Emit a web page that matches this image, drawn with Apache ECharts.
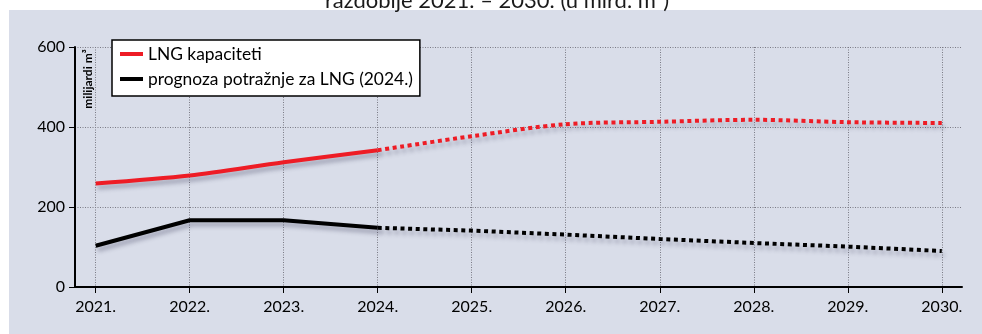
<!DOCTYPE html>
<html><head><meta charset="utf-8">
<script src="https://cdn.jsdelivr.net/npm/echarts@6/dist/echarts.min.js"></script>
<style>html,body{margin:0;padding:0;background:#fff}#c{width:982px;height:334px}</style>
</head><body><div id="c"></div>
<script>
const years = [2021, 2022, 2023, 2024, 2025, 2026, 2027, 2028, 2029, 2030];
const yTicks = [0, 200, 400, 600];
const lngCapacity = [259, 279, 312, 342, 377, 407, 413, 418, 412, 410];
const lngDemand = [103, 167, 167, 148, 141, 131, 120, 110, 101, 90];
const lastActualIndex = 3; // 2024.
const seriesNames = ['LNG kapaciteti', 'prognoza potražnje za LNG (2024.)'];
const titleText = 'razdoblje 2021. – 2030. (u mlrd. m³)';
const yAxisName = 'milijardi m³';

const pairs = (vals, from, to) => years.slice(from, to).map((y, i) => [y, vals[from + i]]);
const FONT = 'Lato';
const shadow = { shadowColor: 'rgba(50,50,80,0.35)', shadowBlur: 4, shadowOffsetX: 2, shadowOffsetY: 4 };

function mk(name, vals, color, dotted, smooth) {
  const from = dotted ? lastActualIndex : 0;
  const to = dotted ? years.length : lastActualIndex + 1;
  return {
    type: 'line', name, data: pairs(vals, from, to), showSymbol: false, symbol: 'none',
    smooth, color,
    lineStyle: Object.assign({ color, width: 4, type: dotted ? [4, 3.6] : 'solid', cap: 'butt' }, shadow),
    z: 3
  };
}

const chart = echarts.init(document.getElementById('c'), null, { renderer: 'canvas' });
chart.setOption({
  animation: false,
  backgroundColor: '#ffffff',
  graphic: [
    { type: 'rect', left: 9, top: 10, shape: { width: 973, height: 324 }, style: { fill: '#d9dde9' }, z: -10, silent: true },
    { type: 'text', x: 497, y: 12, style: { text: titleText, fontFamily: FONT, fontSize: 22, fill: '#1a1a1a', align: 'center', verticalAlign: 'bottom' }, z: 5 },
    { type: 'text', x: 88, y: 79, rotation: Math.PI / 2, style: { text: yAxisName, fontFamily: FONT, fontSize: 12, fontWeight: 'bold', fill: '#000', align: 'center', verticalAlign: 'middle' }, z: 5 }
  ],
  grid: { left: 75, right: 20, top: 47, bottom: 47, containLabel: false },
  legend: {
    data: seriesNames, orient: 'vertical', left: 112, top: 40,
    backgroundColor: '#ffffff', borderColor: '#000', borderWidth: 1.5,
    padding: [4, 7, 7, 8], itemGap: 5, itemWidth: 23, itemHeight: 4, icon: 'rect',
    textStyle: { fontFamily: FONT, fontSize: 17.4, color: '#000', lineHeight: 20 },
    selectedMode: false
  },
  xAxis: {
    type: 'value', min: 2020.78, max: 2030.215,
    axisLine: { show: true, lineStyle: { color: '#000', width: 2 } },
    axisTick: { show: true, customValues: years, length: 6, lineStyle: { color: '#000', width: 1 } },
    axisLabel: { customValues: years, formatter: v => v + '.', fontFamily: FONT, fontSize: 16, color: '#000', margin: 12 },
    splitLine: { show: true, lineStyle: { color: '#7a7a85', width: 1, type: [1, 1.5] } }
  },
  yAxis: {
    type: 'value', min: yTicks[0], max: yTicks[yTicks.length - 1], interval: 200,
    axisLine: { show: true, lineStyle: { color: '#000', width: 2 } },
    axisTick: { show: true, length: 6, lineStyle: { color: '#000', width: 1 } },
    axisLabel: { fontFamily: FONT, fontSize: 16, color: '#000', margin: 10 },
    splitLine: { show: true, lineStyle: { color: '#7a7a85', width: 1, type: [1, 1.5] } }
  },
  series: [
    mk(seriesNames[0], lngCapacity, '#ee1c25', false, 0.3),
    mk(seriesNames[0], lngCapacity, '#ee1c25', true, 0.3),
    mk(seriesNames[1], lngDemand, '#000000', false, false),
    mk(seriesNames[1], lngDemand, '#000000', true, false)
  ]
});
</script></body></html>
